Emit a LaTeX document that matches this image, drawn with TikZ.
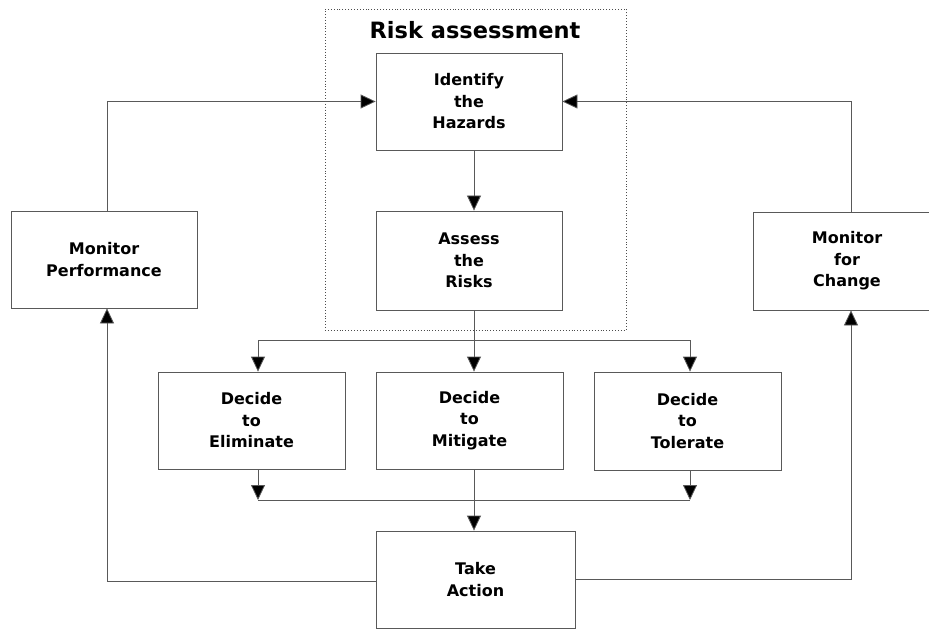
\documentclass[tikz,border=0pt]{standalone}
\usepackage{fontspec}
\setmainfont{DejaVu Sans}
\usetikzlibrary{arrows.meta,positioning,calc}

\begin{document}
\begin{tikzpicture}[
    x=1pt, y=-1pt,
    stage/.style={rectangle, draw=black!65, line width=0.8pt, align=center, font=\fontsize{16}{21.5}\selectfont\bfseries},
    frame/.style={rectangle, draw=black!70, dotted, line width=0.9pt},
    arrow/.style={-{Triangle[length=15pt,width=14pt,fill=black]}, line width=0.8pt, draw=black!65},
    link/.style={line width=0.8pt, draw=black!65}
]
\useasboundingbox (0,0) rectangle (929,631);

% Risk assessment frame
\node[frame, minimum width=301pt, minimum height=321pt] (riskbox) at (475.5,169.5) {};
\node[font=\fontsize{22.5}{26}\selectfont\bfseries] (risktitle) at (475,30) {Risk assessment};

% Stages
\node[stage, minimum width=186pt, minimum height=97pt] (ident) at (469,101.5) {Identify\\the\\Hazards};
\node[stage, minimum width=186pt, minimum height=99pt] (assess) at (469,260.5) {Assess\\the\\Risks};
\node[stage, minimum width=187pt, minimum height=97pt] (elim) at (251.5,420.5) {Decide\\to\\Eliminate};
\node[stage, minimum width=187pt, minimum height=97pt] (mitig) at (469.5,420.5) {Decide\\to\\Mitigate};
\node[stage, minimum width=187pt, minimum height=98pt] (toler) at (687.5,421) {Decide\\to\\Tolerate};
\node[stage, minimum width=199pt, minimum height=97pt] (take) at (475.5,579.5) {Take\\Action};
\node[stage, minimum width=186pt, minimum height=97pt] (monperf) at (104,259.5) {Monitor\\Performance};
\node[stage, minimum width=188pt, minimum height=98pt] (monchg) at (847,261) {Monitor\\for\\Change};

% Branch points
\coordinate (split) at (474,340);
\coordinate (elimend) at (258,500);
\coordinate (tolend) at (690,500);
\coordinate (merge) at (474,500);

% Assessment flow
\draw[arrow] ([xshift=5pt]ident.south) -- ([xshift=5pt]assess.north);
\draw[link] ([xshift=5pt]assess.south) -- (split);
\draw[arrow] (split) -| ([xshift=6.5pt]elim.north);
\draw[arrow] (split) -- ([xshift=4.5pt]mitig.north);
\draw[arrow] (split) -| ([xshift=2.5pt]toler.north);

% Decisions to action
\draw[arrow] ([xshift=6.5pt]elim.south) -- (elimend);
\draw[arrow] ([xshift=2.5pt]toler.south) -- (tolend);
\draw[link] (elimend) -- (tolend);
\draw[arrow] ([xshift=4.5pt]mitig.south) -- ([xshift=-1.5pt]take.north);

% Monitoring loops
\draw[arrow] ([yshift=-1.5pt]take.west) -| ([xshift=3pt]monperf.south);
\draw[arrow] ([xshift=3pt]monperf.north) |- (ident.west);
\draw[arrow] (take.east) -| ([xshift=4pt]monchg.south);
\draw[arrow] ([xshift=4pt]monchg.north) |- (ident.east);

\end{tikzpicture}
\end{document}
